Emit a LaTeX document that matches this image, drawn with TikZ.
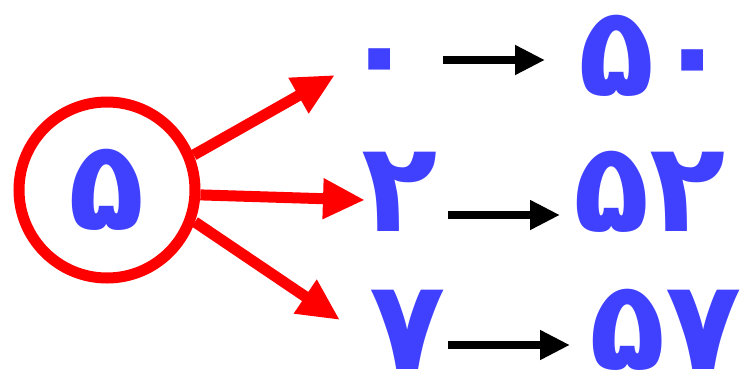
\documentclass[tikz,border=0pt]{standalone}
\usepackage{fontspec}
\newfontfamily\farsi[Script=Arabic]{DejaVu Sans}
\usetikzlibrary{arrows.meta,positioning}
\definecolor{rojo}{HTML}{FF0000}
\definecolor{azul}{HTML}{4040FF}

\begin{document}
\begin{tikzpicture}[x=1pt,y=-1pt,
  digit/.style={text=azul,font=\farsi\bfseries\fontsize{125}{125}\selectfont,inner sep=2pt},
  redarrow/.style={draw=rojo,line width=11pt,-{Triangle[length=42pt,width=38pt]}},
  blackarrow/.style={draw=black,line width=8pt,-{Triangle[length=30pt,width=28pt]}}]
  \path[use as bounding box] (0,0) rectangle (743,391);
  % source digit
  \node[digit,draw=rojo,line width=11pt,circle,minimum size=176pt] (src) at (107,190) {۵};
  % second digits
  \node[digit] (d0) at (380,72) {۰};
  \node[digit] (d2) at (400,192) {۲};
  \node[digit] (d7) at (408,330) {۷};
  % results
  \node[digit] (r0) at (655,56) {۵۰};
  \node[digit] (r2) at (650,192) {۵۲};
  \node[digit] (r7) at (666,330) {۵۷};
  % arrows
  \draw[redarrow] (src.22) -- (335,75);
  \draw[redarrow] (src.-3) -- (365,200);
  \draw[redarrow] (src.-20) -- (340,320);
  \draw[blackarrow] (443,60) -- (545,60);
  \draw[blackarrow] (448,215) -- (560,215);
  \draw[blackarrow] (448,345) -- (570,345);
\end{tikzpicture}
\end{document}
